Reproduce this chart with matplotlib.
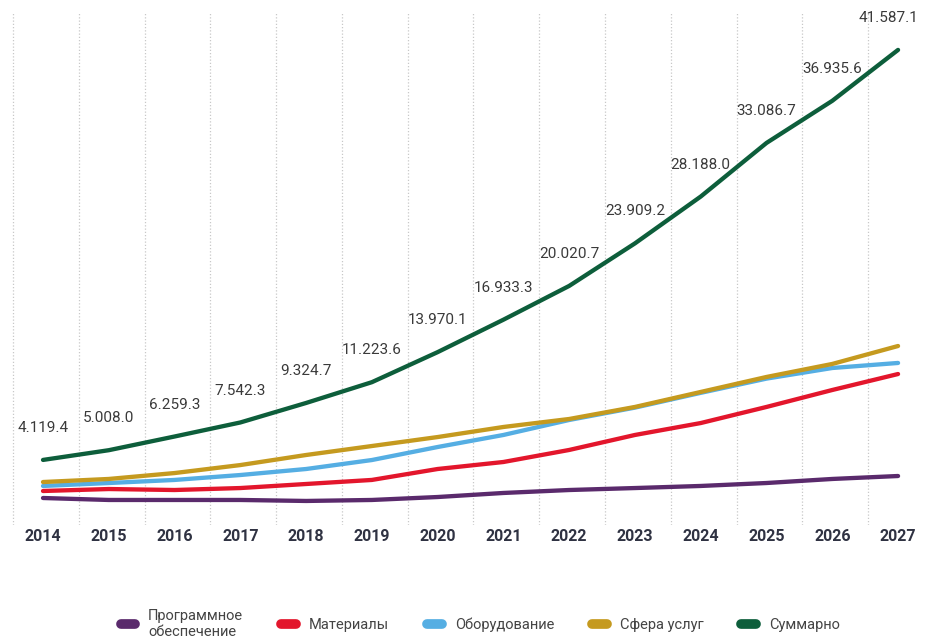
import matplotlib
matplotlib.use("Agg")
import matplotlib.pyplot as plt
import numpy as np
from matplotlib.lines import Line2D

# Market volume by segment, 2014-2027
years = [2014, 2015, 2016, 2017, 2018, 2019, 2020, 2021, 2022, 2023, 2024, 2025, 2026, 2027]
total = [4119.4, 5008.0, 6259.3, 7542.3, 9324.7, 11223.6, 13970.1, 16933.3,
         20020.7, 23909.2, 28188.0, 33086.7, 36935.6, 41587.1]
services = [2100, 2380, 2920, 3650, 4570, 5390, 6210, 7130, 7860, 8960, 10330, 11700, 12890, 14530]
equipment = [1740, 2010, 2290, 2740, 3290, 4110, 5300, 6400, 7770, 8900, 10250, 11550, 12520, 12980]
materials = [1280, 1460, 1370, 1550, 1920, 2290, 3290, 3930, 5030, 6400, 7490, 8960, 10510, 11970]
software = [640, 460, 460, 460, 370, 460, 730, 1100, 1370, 1550, 1740, 2010, 2380, 2650]

names = ["Программное\nобеспечение", "Материалы", "Оборудование", "Сфера услуг", "Суммарно"]
colors = ["#5a2a6c", "#e3162c", "#55aee3", "#c59a1f", "#0d5e3b"]

fig = plt.figure(figsize=(9.27, 6.43), dpi=100)
ax = fig.add_axes([0.0, 0.1835, 1.0, 0.7963])

# dotted separators between years
for y in years:
    ax.axvline(y - 0.456, color="#c8c8c8", lw=0.9, ls=(0, (1, 1.6)), zorder=0)

series = [software, materials, equipment, services, total]
for vals, name, c in zip(series, names, colors):
    ax.plot(years, vals, color=c, lw=3.1, solid_capstyle="round",
            solid_joinstyle="round", label=name, zorder=2)

# value labels over the total line (last one nudged in from the edge)
for i, (x, v) in enumerate(zip(years, total)):
    txt = f"{v:,.1f}".replace(",", ".")
    dx = -7 if i == len(years) - 1 else 0
    ax.annotate(txt, (x, v), xytext=(dx, 23), textcoords="offset points",
                ha="center", va="center", fontsize=11, color="#3a3a3a",
                family="Roboto")

ax.set_xlim(2013.346, 2027.44)
ax.set_ylim(-1828, 44960)
ax.set_yticks([])
ax.set_xticks(years)
ax.set_xticklabels([str(y) for y in years], fontsize=11.5, fontweight="bold",
                   color="#2f3242", family="Roboto")
ax.tick_params(axis="x", length=0, pad=3)
for s in ax.spines.values():
    s.set_visible(False)

handles = [Line2D([0], [0], color=c, lw=7, solid_capstyle="round") for c in colors]
fig.legend(handles, names, loc="center", bbox_to_anchor=(0.518, 0.03), ncol=5,
           frameon=False, handlelength=1.0, handletextpad=0.9, columnspacing=2.6,
           prop={"family": "Roboto", "size": 10.5}, labelcolor="#444444")

fig.savefig("out.png", dpi=100)
